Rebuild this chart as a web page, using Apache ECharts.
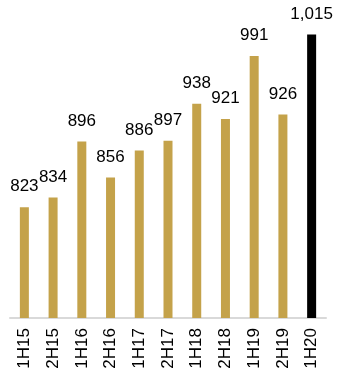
<!DOCTYPE html>
<html>
<head>
<meta charset="utf-8">
<script src="https://cdn.jsdelivr.net/npm/echarts@6/dist/echarts.min.js"></script>
<style>
  html, body { margin: 0; padding: 0; background: #fff; }
  #chart { width: 337px; height: 377px; }
</style>
</head>
<body>
<div id="chart"></div>
<script>
// Half-year periods and their values
const periods = ['1H15', '2H15', '1H16', '2H16', '1H17', '2H17', '1H18', '2H18', '1H19', '2H19', '1H20'];
const values = [823, 834, 896, 856, 886, 897, 938, 921, 991, 926, 1015];

const gold = '#C4A24A';
const latest = '#000000';

const chart = echarts.init(document.getElementById('chart'), null, { renderer: 'canvas' });

chart.setOption({
  animation: false,
  grid: { left: 10, right: 11, top: 3, bottom: 59, containLabel: false },
  xAxis: {
    type: 'category',
    data: periods,
    axisLine: { show: true, lineStyle: { color: '#d9d9d9', width: 2 } },
    axisTick: { show: false },
    axisLabel: {
      rotate: 90,
      margin: 10,
      color: '#000',
      fontFamily: 'Liberation Sans, Arial, sans-serif',
      fontSize: 17,
      interval: 0
    }
  },
  yAxis: {
    type: 'value',
    min: 700,
    max: 1050,
    show: false,
    splitLine: { show: false }
  },
  series: [{
    type: 'bar',
    barWidth: 9,
    data: values.map((v, i) => ({
      value: v,
      itemStyle: { color: i === values.length - 1 ? latest : gold }
    })),
    label: {
      show: true,
      position: 'top',
      distance: 12,
      color: '#000',
      fontFamily: 'Liberation Sans, Arial, sans-serif',
      fontSize: 17,
      formatter: p => p.value.toLocaleString('en-US')
    }
  }]
});
</script>
</body>
</html>
